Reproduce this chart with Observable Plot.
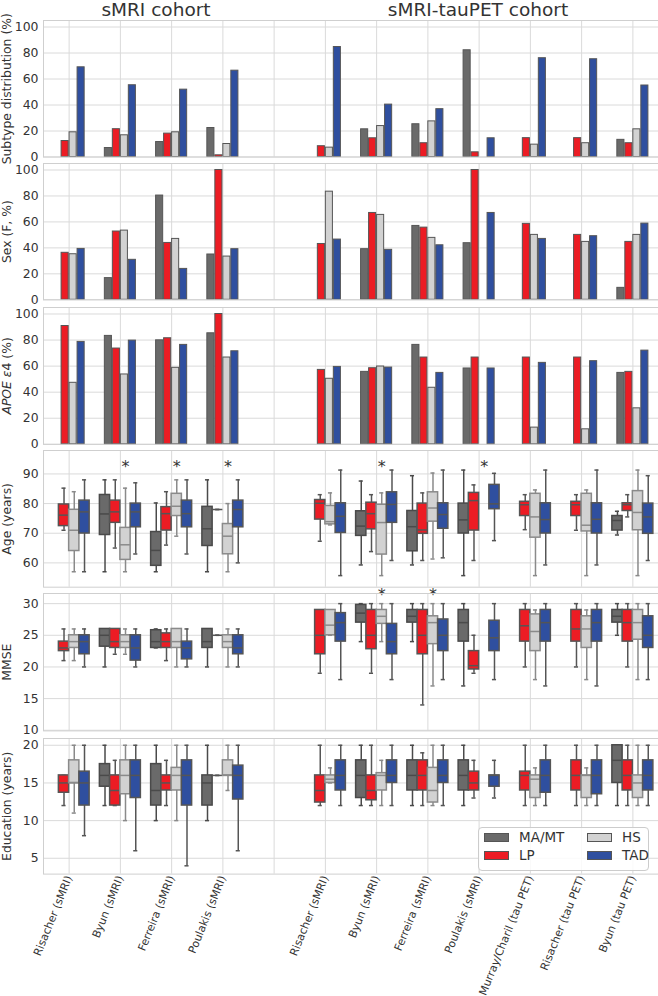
<!DOCTYPE html>
<html>
<head>
<meta charset="utf-8">
<script src="https://cdn.jsdelivr.net/npm/d3@7"></script>
<script src="https://cdn.jsdelivr.net/npm/@observablehq/plot@0.6"></script>
<style>
  body { margin: 0; background: #fff; font-family: "DejaVu Sans", sans-serif; }
  #root { position: relative; width: 658px; height: 996px; overflow: hidden; background: #fff; }
  .title { position: absolute; top: 1px; font-size: 18.5px; line-height: 17px; color: #333; transform: translateX(-50%); white-space: nowrap; }
  .legend { position: absolute; left: 478px; top: 827px; width: 171px; height: 44px; border: 1px solid #ccc; border-radius: 4px; background: rgba(255,255,255,0.85); box-sizing: border-box; }
  .legend .sw { position: absolute; width: 25px; height: 9px; box-sizing: border-box; border: 1px solid #555; }
  .legend .lb { position: absolute; font-size: 13.5px; line-height: 14px; color: #333; white-space: nowrap; }
</style>
</head>
<body>
<div id="root"></div>
<script>
// ---------------- data ----------------
const studies = ["Risacher (sMRI)", "Byun (sMRI)", "Ferreira (sMRI)", "Poulakis (sMRI)", "",
  "Risacher (sMRI)", "Byun (sMRI)", "Ferreira (sMRI)", "Poulakis (sMRI)",
  "Murray/Charil (tau PET)", "Risacher (tau PET)", "Byun (tau PET)"];
const subtypes = ["MA/MT", "LP", "HS", "TAD"];
const cohortTitles = ["sMRI cohort", "sMRI-tauPET cohort"];

// bar panels: per study, values for [MA/MT, LP, HS, TAD]
const subtypeDist = [
  [null, 12.3, 19.0, 69.0],
  [6.9, 21.4, 16.7, 55.2],
  [11.5, 18.0, 19.0, 51.8],
  [22.3, 1.3, 10.0, 66.4],
  null,
  [null, 8.3, 7.2, 84.6],
  [21.3, 14.4, 23.8, 40.3],
  [25.2, 10.6, 27.4, 36.8],
  [82.1, 3.6, null, 14.4],
  [null, 14.5, 9.5, 76.0],
  [null, 14.5, 10.6, 75.2],
  [13.2, 10.6, 21.3, 55.0]
];
const sexF = [
  [null, 36.2, 35.1, 39.2],
  [16.7, 52.6, 53.3, 30.8],
  [80.3, 43.8, 46.9, 23.8],
  [34.9, 100, 33.3, 39.0],
  null,
  [null, 43.0, 83.3, 46.4],
  [39.0, 66.9, 65.4, 38.5],
  [56.9, 55.6, 47.7, 42.0],
  [43.6, 100, null, 66.9],
  [null, 58.5, 50.0, 46.9],
  [null, 50.0, 44.6, 49.0],
  [9.2, 44.6, 50.0, 58.7]
];
const apoe = [
  [null, 90.8, 47.2, 78.6],
  [83.2, 73.5, 53.6, 79.6],
  [79.8, 81.4, 58.7, 76.3],
  [85.2, 100, 66.6, 71.4],
  null,
  [null, 57.1, 50.3, 59.4],
  [55.6, 58.4, 59.7, 58.9],
  [76.3, 66.6, 43.4, 54.8],
  [58.2, 66.6, null, 58.2],
  [null, 66.6, 12.8, 62.5],
  [null, 66.6, 11.5, 63.8],
  [54.8, 55.6, 27.6, 71.9]
];

// box panels: per study, per subtype [whisker low, q1, median, q3, whisker high]
const age = [
  [null, [71, 72.4, 76.1, 79.7, 85.2], [57, 64, 71, 77.9, 84], [57, 69.9, 77.2, 81, 88]],
  [[57, 69.4, 76.5, 82.9, 88], [65, 73.5, 77.2, 81, 88], [57, 61, 66.1, 71.8, 85.2], [63, 72, 77.2, 80, 87]],
  [[57, 59, 64.2, 70.4, 80.2], [66, 70.9, 76.6, 78.8, 84], [69, 75.8, 79.1, 83.3, 88], [63, 72, 76.6, 81, 88]],
  [[57, 65.7, 71.5, 78.9, 88], [78, 78, 78, 78, 78], [57, 62.9, 69, 73.1, 80], [60, 72, 78, 81, 88]],
  null,
  [null, [67.3, 74.6, 80.1, 81.2, 83], [72.8, 73, 73.9, 79.2, 83.6], [55.7, 70.1, 75.7, 80.1, 91.3]],
  [[59.3, 69.1, 72.4, 77.4, 87.6], [63.8, 71.3, 76.6, 80.3, 83], [55.7, 62.8, 73.6, 79.6, 83.6], [60.8, 73.5, 79.7, 83.8, 91.3]],
  [[59.3, 63.9, 72.2, 77.5, 89.4], [60.8, 69.8, 71.1, 80, 83.6], [61.3, 73.9, 78.5, 83.8, 90.3], [61.7, 71.5, 76.3, 80.1, 91.3]],
  [[55.7, 69.9, 74.5, 80, 91.3], [60.8, 70.9, 81, 83.6, 86.3], null, [67.5, 78.1, 79.9, 86.3, 90.2]],
  [null, [71.2, 75.8, 79.6, 80.6, 83], [55.7, 68.5, 75.5, 83.3, 84.6], [59.3, 69.9, 74.6, 80.1, 91.3]],
  [null, [71, 75.8, 79.6, 80.6, 83], [55.7, 70.6, 72.7, 83.3, 84.6], [59.3, 69.9, 74.7, 80.1, 91.3]],
  [[69.4, 70.9, 74.3, 75.8, 77.4], [75.5, 77.5, 79.6, 80.1, 83], [55.7, 71, 77, 84.2, 91.3], [60.8, 69.8, 75.5, 80, 89.4]]
];
const mmse = [
  [null, [21, 22.5, 23, 24, 26], [21, 23, 24, 25, 26], [20, 22, 24, 25, 26]],
  [[20, 23.2, 25, 26, 26], [22, 23, 24, 26, 26], [22, 23, 24, 25, 26], [20, 21, 23, 25, 26]],
  [[23, 23, 24, 25.8, 26], [21, 23, 24, 25.3, 26], [20, 23, 24, 26, 26], [20, 21.2, 23, 24, 26]],
  [[20, 23, 24, 26, 26], [25, 25, 25, 25, 25], [20, 23, 24, 25, 26], [20, 22, 23, 25, 26]],
  null,
  [null, [19, 22, 25, 29, 29], [25, 25, 26.6, 29, 29], [18, 24, 27, 28.5, 30]],
  [[24, 27, 28.5, 29.8, 30], [19, 22.8, 25, 29, 30], [24, 26.8, 28, 29, 30], [18, 22, 24, 26.8, 30]],
  [[24, 27, 28, 29, 30], [14, 22, 25, 29, 30], [17, 23.6, 27, 28, 30], [18, 22.5, 25, 27.5, 30]],
  [[17, 24, 27, 29, 30], [19, 19.6, 20.2, 22.5, 25], null, [18, 22.5, 24.6, 27.3, 30]],
  [null, [20, 24, 26.5, 29, 30], [18, 22.5, 25.6, 28.3, 29], [17, 24, 27, 29, 30]],
  [null, [20, 24, 26, 29, 30], [18, 23, 26, 28, 29], [17, 24, 27, 29, 30]],
  [[25, 27, 28, 29, 30], [20, 24, 27, 29, 30], [18, 24.3, 27, 29, 30], [18, 23, 25, 28, 30]]
];
const education = [
  [null, [12, 13.7, 15, 16, 16], [11, 15, 15, 18, 20], [8, 12, 15, 16.5, 20]],
  [[12, 14.5, 16, 17.5, 20], [12, 12, 14, 16, 18], [10, 13.5, 16, 18, 20], [6, 13, 16, 18, 20]],
  [[10, 12, 14, 17.5, 20], [12, 14, 15, 16, 18], [10, 14, 16, 17, 20], [4, 12, 16, 18, 20]],
  [[10, 12, 15, 16, 20], [16, 16, 16, 16, 16], [14, 16, 16, 18, 20], [6, 12.8, 16, 17.3, 20]],
  null,
  [null, [12, 12.4, 14, 16, 20], [15, 15, 15.5, 16, 17], [12, 14, 16, 18, 20]],
  [[12, 13, 16, 18, 20], [12, 12.7, 14, 16, 20], [12, 14, 16, 16.3, 18], [12, 15, 16, 18, 20]],
  [[12, 14, 16, 18, 20], [12, 14, 16, 18, 19], [12, 12.4, 14, 17, 20], [12, 15, 16, 18, 20]],
  [[12, 14, 16, 18, 20], [13, 14, 15, 16.5, 18], null, [13, 14.5, 16, 16, 18]],
  [null, [12, 14, 16, 16.5, 20], [12, 13, 15.5, 16, 17], [12, 13.7, 16, 18, 20]],
  [null, [12, 14, 16, 18, 20], [12, 13, 16, 16, 17], [12, 13.5, 16, 18, 20]],
  [[12, 15, 18, 20, 20], [12, 14, 16, 18, 20], [12, 13, 15, 16, 20], [12, 14, 16, 18, 20]]
];
const ageStars = [1, 2, 3, 6, 8];   // study indices with * in Age
const mmseStars = [6, 7];          // study indices with * in MMSE

// ---------------- styles ----------------
const colors = ["#6a6a6a", "#ec1c24", "#d2d2d2", "#2f4f9f"];
const boxEdges = ["#4a4a4a", "#555555", "#8a8a8a", "#555555"];
const barEdge = "#555555";
const gridColor = "#dadada";
const frameColor = "#cfcfcf";
const textColor = "#333";
const xIdx = d3.range(studies.length);

const barStep = 0.156, barW = 0.138;
const boxStep = 0.2, boxW = 0.2, capW = 0.08;

const root = document.getElementById("root");

function barRows(arr) {
  const rows = [];
  arr.forEach((vals, i) => { if (!vals) return; vals.forEach((v, j) => { if (v != null) rows.push({i, j, v}); }); });
  return rows;
}
function boxRows(arr) {
  const rows = [];
  arr.forEach((vals, i) => { if (!vals) return; vals.forEach((s, j) => {
    if (s) rows.push({i, j, lo: s[0], q1: s[1], med: s[2], q3: s[3], hi: s[4]});
  }); });
  return rows;
}

function barMarks(arr) {
  const rows = barRows(arr);
  return subtypes.map((s, j) => {
    const off = (j - 1.5) * barStep;
    return Plot.rectY(rows.filter(d => d.j === j), {
      x1: d => d.i + off - barW / 2, x2: d => d.i + off + barW / 2,
      y1: 0, y2: "v", fill: colors[j], stroke: barEdge, strokeWidth: 1
    });
  });
}

function boxMarks(arr) {
  const rows = boxRows(arr);
  const marks = [];
  subtypes.forEach((s, j) => {
    const off = (j - 1.5) * boxStep;
    const r = rows.filter(d => d.j === j);
    const xc = d => d.i + off;
    const st = {stroke: boxEdges[j], strokeWidth: 1.5};
    marks.push(Plot.ruleX(r, {x: xc, y1: "lo", y2: "hi", ...st}));
    marks.push(Plot.ruleY(r, {y: "lo", x1: d => xc(d) - capW / 2, x2: d => xc(d) + capW / 2, ...st}));
    marks.push(Plot.ruleY(r, {y: "hi", x1: d => xc(d) - capW / 2, x2: d => xc(d) + capW / 2, ...st}));
    marks.push(Plot.rectY(r, {x1: d => xc(d) - boxW / 2, x2: d => xc(d) + boxW / 2, y1: "q1", y2: "q3", fill: colors[j], ...st}));
    marks.push(Plot.ruleY(r, {y: "med", x1: d => xc(d) - boxW / 2, x2: d => xc(d) + boxW / 2, ...st}));
  });
  return marks;
}

function panel({frameTop, frameBottom, yDomain, yTicks, label, marks, last}) {
  const mt = 4, mb = last ? 126 : 3;
  const svg = Plot.plot({
    width: 658, height: frameBottom - frameTop + mt + mb,
    marginLeft: 43, marginRight: 0, marginTop: mt, marginBottom: mb,
    style: {fontFamily: "'DejaVu Sans', sans-serif", fontSize: "12.4px", color: textColor, background: "transparent", overflow: "visible"},
    x: {domain: [-0.5, 11.5], axis: null},
    y: {domain: yDomain, axis: null},
    marks: [
      Plot.gridY(yTicks, {stroke: gridColor, strokeOpacity: 1, strokeWidth: 1}),
      Plot.gridX(xIdx, {stroke: gridColor, strokeOpacity: 1, strokeWidth: 1}),
      ...marks,
      Plot.frame({stroke: frameColor, strokeWidth: 1}),
      Plot.axisY(yTicks, {tickSize: 0, tickPadding: 5, label, labelAnchor: "center", labelOffset: 41, labelArrow: "none", fontSize: 12.4}),
      last ? Plot.axisX(xIdx, {tickSize: 0, tickPadding: 2, tickRotate: -68, tickFormat: i => studies[i], fontSize: 11, label: null}) : null
    ]
  });
  svg.style.position = "absolute";
  svg.style.left = "0px";
  svg.style.top = (frameTop - mt) + "px";
  root.append(svg);
  return svg;
}

// titles
[[cohortTitles[0], 156], [cohortTitles[1], 478]].forEach(([t, x]) => {
  const d = document.createElement("div");
  d.className = "title"; d.style.left = x + "px"; d.textContent = t;
  root.append(d);
});

panel({frameTop: 19.5, frameBottom: 156, yDomain: [0, 105], yTicks: [0, 20, 40, 60, 80, 100],
  label: "Subtype distribution (%)", marks: barMarks(subtypeDist)});
panel({frameTop: 163, frameBottom: 299.3, yDomain: [0, 105], yTicks: [0, 20, 40, 60, 80, 100],
  label: "Sex (F, %)", marks: barMarks(sexF)});
const apoeSvg = panel({frameTop: 306.5, frameBottom: 443.3, yDomain: [0, 105], yTicks: [0, 20, 40, 60, 80, 100],
  label: "APOE ε4 (%)", marks: barMarks(apoe)});
panel({frameTop: 450, frameBottom: 586.7, yDomain: [51.8, 97.9], yTicks: [60, 70, 80, 90],
  label: "Age (years)", marks: [
    ...boxMarks(age),
    Plot.text(ageStars, {x: d => d + 0.1, frameAnchor: "top", dy: 10, text: () => "*", fontSize: 16, fill: textColor})
  ]});
panel({frameTop: 593.3, frameBottom: 730.7, yDomain: [9.9, 31.6], yTicks: [10, 15, 20, 25, 30],
  label: "MMSE", marks: [
    ...boxMarks(mmse),
    Plot.text(mmseStars, {x: d => d + 0.1, frameAnchor: "top", dy: -4.5, text: () => "*", fontSize: 16, fill: textColor})
  ]});
panel({frameTop: 737.7, frameBottom: 873.3, yDomain: [2.9, 20.9], yTicks: [5, 10, 15, 20],
  label: "Education (years)", marks: boxMarks(education), last: true});

// italic APOE label
const lab = apoeSvg.querySelector('[aria-label="y-axis label"] text');
if (lab) {
  lab.textContent = "";
  const ns = "http://www.w3.org/2000/svg";
  const t1 = document.createElementNS(ns, "tspan"); t1.setAttribute("font-style", "italic"); t1.textContent = "APOE ε";
  const t2 = document.createElementNS(ns, "tspan"); t2.textContent = "4 (%)";
  lab.append(t1, t2);
}

// legend
const leg = document.createElement("div");
leg.className = "legend";
const legPos = [[0, 5, 5], [1, 5, 23], [2, 108, 5], [3, 108, 23]];
legPos.forEach(([j, x, y]) => {
  const sw = document.createElement("div");
  sw.className = "sw"; sw.style.left = x + "px"; sw.style.top = y + "px"; sw.style.background = colors[j];
  const lb = document.createElement("div");
  lb.className = "lb"; lb.style.left = (x + 35) + "px"; lb.style.top = (y - 3) + "px"; lb.textContent = subtypes[j];
  leg.append(sw, lb);
});
root.append(leg);
</script>
</body>
</html>
